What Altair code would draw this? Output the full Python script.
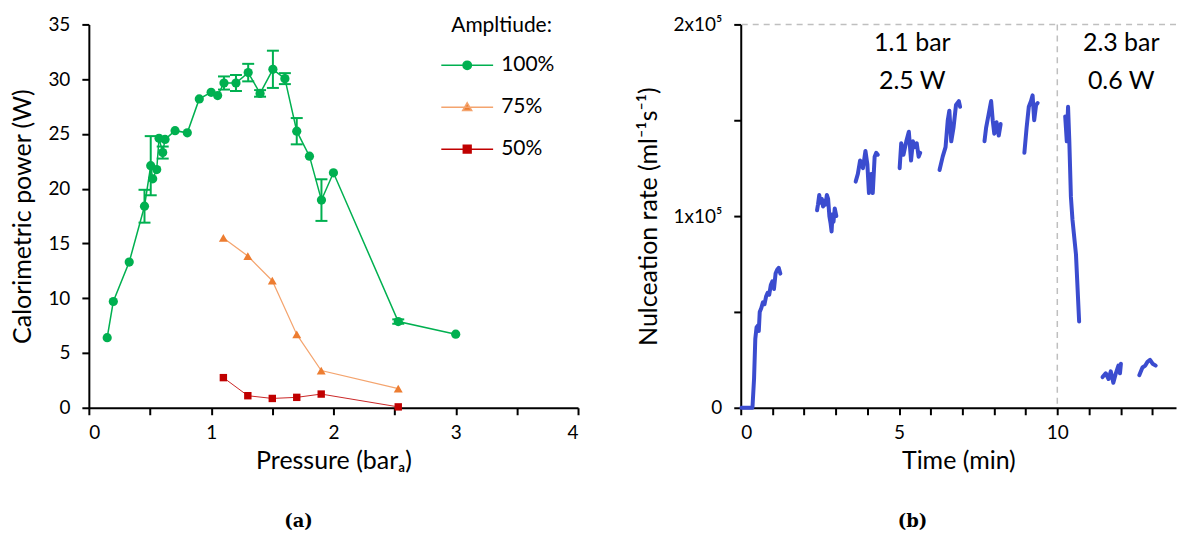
import altair as alt
import pandas as pd

FONT = "Lato"
GREEN = "#00B050"
ORANGE = "#ED7D31"
ORANGE_LINE = "#F4A46E"
RED = "#C00000"
BLUE = "#3B4CCF"
GREY = "#BFBFBF"

# ---------------- Panel (a): calorimetric power vs pressure ----------------
amp100_p = [0.15, 0.20, 0.33, 0.455, 0.506, 0.522, 0.555, 0.574, 0.604, 0.623, 0.705,
            0.805, 0.903, 1.00, 1.053, 1.105, 1.203, 1.303, 1.40, 1.505, 1.603, 1.70,
            1.804, 1.902, 2.00, 2.53, 3.00]
amp100_w = [6.4, 9.7, 13.3, 18.4, 22.1, 20.9, 21.75, 24.6, 23.3, 24.5, 25.3,
            25.1, 28.2, 28.8, 28.5, 29.65, 29.65, 30.6, 28.7, 30.9, 30.05, 25.25,
            22.97, 18.96, 21.45, 7.87, 6.72]
amp100_err = [0, 0, 0, 1.5, 2.7, 0, 0, 0, 0.55, 0, 0,
              0, 0, 0, 0, 0.6, 0.73, 0.8, 0.3, 1.7, 0.5, 1.2,
              0, 1.9, 0, 0.2, 0]
amp75_p = [1.10, 1.30, 1.50, 1.70, 1.90, 2.53]
amp75_w = [15.5, 13.85, 11.6, 6.7, 3.4, 1.75]
amp50_p = [1.10, 1.30, 1.50, 1.70, 1.90, 2.53]
amp50_w = [2.75, 1.1, 0.85, 0.95, 1.25, 0.08]

amp_labels = ["100%", "75%", "50%"]
x_ticks_a = [0, 0.5, 1, 1.5, 2, 2.5, 3, 3.5, 4]
y_ticks_a = [0, 5, 10, 15, 20, 25, 30, 35]

# ---------------- Panel (b): nucleation rate vs time (values in 1e5 ml^-1 s^-1) ----------------
seg_t = [
    [0.02, 0.37, 0.42, 0.46, 0.50, 0.55, 0.57, 0.60, 0.65, 0.70, 0.75, 0.80, 0.85, 0.90, 0.95, 1.00, 1.05, 1.10, 1.15, 1.20, 1.25],
    [2.41, 2.44, 2.48, 2.52, 2.56, 2.60, 2.64, 2.68, 2.72, 2.76, 2.80, 2.84, 2.87, 2.90, 2.93, 2.97, 3.02],
    [3.63, 3.70, 3.77, 3.86, 3.94, 4.00, 4.05, 4.12, 4.17, 4.23, 4.28, 4.33],
    [5.02, 5.07, 5.14, 5.23, 5.31, 5.38, 5.44, 5.50, 5.56, 5.62, 5.67],
    [6.28, 6.38, 6.47, 6.54, 6.59, 6.65, 6.72, 6.80, 6.89, 6.93],
    [7.70, 7.75, 7.83, 7.91, 7.96, 8.01, 8.08, 8.15, 8.21],
    [8.96, 9.03, 9.10, 9.17, 9.22, 9.27, 9.33, 9.38],
    [10.25, 10.30, 10.34, 10.38, 10.43, 10.48, 10.59, 10.69],
    [11.43, 11.53, 11.62, 11.69, 11.77, 11.85, 11.93, 11.98, 12.01],
    [12.59, 12.69, 12.78, 12.85, 12.93, 13.01, 13.11],
]
seg_r = [
    [0.0, 0.0, 0.15, 0.36, 0.42, 0.43, 0.40, 0.50, 0.52, 0.55, 0.54, 0.58, 0.60, 0.59, 0.64, 0.66, 0.62, 0.70, 0.72, 0.73, 0.70],
    [1.03, 1.06, 1.11, 1.07, 1.09, 1.05, 1.08, 1.06, 1.11, 1.09, 1.00, 0.96, 0.92, 1.01, 0.97, 1.04, 1.00],
    [1.18, 1.22, 1.29, 1.25, 1.34, 1.27, 1.12, 1.22, 1.12, 1.31, 1.33, 1.32],
    [1.25, 1.38, 1.32, 1.39, 1.44, 1.29, 1.39, 1.36, 1.38, 1.31, 1.33],
    [1.24, 1.31, 1.36, 1.50, 1.55, 1.39, 1.46, 1.58, 1.60, 1.57],
    [1.39, 1.46, 1.53, 1.60, 1.50, 1.43, 1.49, 1.42, 1.48],
    [1.33, 1.46, 1.57, 1.60, 1.63, 1.50, 1.58, 1.59],
    [1.52, 1.39, 1.57, 1.39, 1.10, 0.98, 0.80, 0.45],
    [0.16, 0.18, 0.15, 0.19, 0.13, 0.18, 0.22, 0.18, 0.23],
    [0.17, 0.21, 0.22, 0.24, 0.25, 0.23, 0.22],
]
x_ticks_b = list(range(0, 14))
y_ticks_b = [0, 0.5, 1, 1.5, 2]
annot_text = ["1.1 bar", "2.5 W", "2.3 bar", "0.6 W"]
annot_t = [5.42, 5.42, 12.02, 12.02]
annot_r = [1.905, 1.705, 1.905, 1.705]
divider_t = [10]
top_r = [2]

# ================= build panel (a) =================
df100 = pd.DataFrame({"p": amp100_p, "w": amp100_w, "err": amp100_err})
df100["lo"] = df100["w"] - df100["err"]
df100["hi"] = df100["w"] + df100["err"]
err_df = df100[df100["err"] > 0]
df75 = pd.DataFrame({"p": amp75_p, "w": amp75_w})
df50 = pd.DataFrame({"p": amp50_p, "w": amp50_w})

xa = alt.X("p:Q", scale=alt.Scale(domain=[0, 4], nice=False),
           axis=alt.Axis(title="Pressure (barₐ)", values=x_ticks_a, labelOverlap=False,
                         labelExpr="datum.value % 1 == 0 ? format(datum.value, 'd') : ''"))
ya = alt.Y("w:Q", scale=alt.Scale(domain=[0, 35], nice=False),
           axis=alt.Axis(title="Calorimetric power (W)", values=y_ticks_a, labelOverlap=False))

line100 = alt.Chart(df100).mark_line(color=GREEN, strokeWidth=1.5).encode(x=xa, y=ya)
pts100 = alt.Chart(df100).mark_point(filled=True, shape="circle", size=85, color=GREEN, opacity=1).encode(x=xa, y=ya)
err_rule = alt.Chart(err_df).mark_rule(color=GREEN, strokeWidth=2).encode(x="p:Q", y="lo:Q", y2="hi:Q")
cap_lo = alt.Chart(err_df).mark_tick(color=GREEN, thickness=2, size=12, orient="horizontal", opacity=1).encode(x="p:Q", y="lo:Q")
cap_hi = alt.Chart(err_df).mark_tick(color=GREEN, thickness=2, size=12, orient="horizontal", opacity=1).encode(x="p:Q", y="hi:Q")
line75 = alt.Chart(df75).mark_line(color=ORANGE_LINE, strokeWidth=1.2).encode(x=xa, y=ya)
pts75 = alt.Chart(df75).mark_point(filled=True, shape="triangle-up", size=80, color=ORANGE, opacity=1).encode(x=xa, y=ya)
line50 = alt.Chart(df50).mark_line(color=RED, strokeWidth=1, opacity=0.85).encode(x=xa, y=ya)
pts50 = alt.Chart(df50).mark_point(filled=True, shape="square", size=55, color=RED, opacity=1).encode(x=xa, y=ya)

legend_paths = [
    "M-1.73,0H1.73M0.28,0A0.28,0.28,0,1,1,-0.28,0A0.28,0.28,0,1,1,0.28,0Z",
    "M-1.73,0H1.73M0,-0.3L0.3,0.22L-0.3,0.22Z",
    "M-1.73,0H1.73M-0.26,-0.26H0.26V0.26H-0.26Z",
]
leg_df = pd.DataFrame({"amp": amp_labels})
legend_layer = alt.Chart(leg_df).transform_filter("false").mark_point(
    filled=True, opacity=1, size=900, strokeWidth=1.5).encode(
    shape=alt.Shape("amp:N", scale=alt.Scale(domain=amp_labels, range=legend_paths),
                    legend=alt.Legend(title="Ampltiude:", orient="none", legendX=363, legendY=-9,
                                      symbolSize=900, symbolStrokeWidth=1.5, labelOffset=18,
                                      rowPadding=16, titlePadding=13, padding=0,
                                      labelFont=FONT, labelFontSize=21, labelColor="black",
                                      titleFont=FONT, titleFontSize=21, titleFontWeight="normal",
                                      titleColor="black")),
    fill=alt.Fill("amp:N", scale=alt.Scale(domain=amp_labels, range=[GREEN, ORANGE, RED])),
    stroke=alt.Stroke("amp:N", scale=alt.Scale(domain=amp_labels, range=[GREEN, ORANGE_LINE, RED])),
)

panel_a = alt.layer(line100, line75, line50, err_rule, cap_lo, cap_hi, pts100, pts75, pts50,
                    legend_layer).properties(
    width=490, height=384,
    title=alt.TitleParams("(a)", orient="bottom", anchor="middle", frame="group", dx=-35,
                          font="DejaVu Serif", fontWeight="bold", fontSize=18, offset=39,
                          color="black"))

# ================= build panel (b) =================
rows = []
for k, (ts, rs) in enumerate(zip(seg_t, seg_r)):
    for t, r in zip(ts, rs):
        rows.append({"t": t, "r": r, "seg": k})
df_b = pd.DataFrame(rows)
ann_df = pd.DataFrame({"t": annot_t, "r": annot_r, "txt": annot_text})

xb = alt.X("t:Q", scale=alt.Scale(domain=[0, 13.75], nice=False),
           axis=alt.Axis(title="Time (min)", values=x_ticks_b, labelOverlap=False,
                         labelExpr="datum.value % 5 == 0 ? format(datum.value, 'd') : ''"))
yb = alt.Y("r:Q", scale=alt.Scale(domain=[0, 2], nice=False),
           axis=alt.Axis(title="Nulceation rate (ml⁻¹s⁻¹)", values=y_ticks_b, labelOverlap=False,
                         labelExpr="datum.value == 0 ? '0' : (datum.value % 1 == 0 ? format(datum.value, 'd') + 'x10⁵' : '')"))

line_b = alt.Chart(df_b).mark_line(color=BLUE, strokeWidth=4, strokeCap="round",
                                   strokeJoin="round").encode(x=xb, y=yb, detail="seg:N")
vline = alt.Chart(pd.DataFrame({"t": divider_t})).mark_rule(
    color=GREY, strokeDash=[6, 5], strokeWidth=1.5).encode(x=xb)
hline = alt.Chart(pd.DataFrame({"r": top_r})).mark_rule(
    color=GREY, strokeDash=[6, 5], strokeWidth=1.5).encode(y=yb)
ann = alt.Chart(ann_df).mark_text(font=FONT, fontSize=25, baseline="middle", align="center",
                                  color="black").encode(x=xb, y=yb, text="txt:N")

panel_b = alt.layer(line_b, hline, vline, ann).properties(
    width=436, height=384,
    title=alt.TitleParams("(b)", orient="bottom", anchor="middle", frame="group", dx=-46,
                          font="DejaVu Serif", fontWeight="bold", fontSize=18, offset=39,
                          color="black"))

chart = alt.hconcat(panel_a, panel_b, spacing=57).properties(
    padding={"left": 10, "top": 15, "right": 0, "bottom": 0}
).configure_view(stroke=None).configure_axis(
    labelFont=FONT, labelFontSize=19, labelColor="black",
    titleFont=FONT, titleFontSize=25, titleFontWeight="normal", titleColor="black",
    domainColor="black", domainWidth=2, tickColor="black", tickWidth=2, tickSize=7,
    grid=False, labelPadding=9, titlePadding=6, labelOverlap=False,
).configure_axisY(labelPadding=12, titlePadding=12)

chart.save("out.html", embed_options={"renderer": "svg", "actions": False})
